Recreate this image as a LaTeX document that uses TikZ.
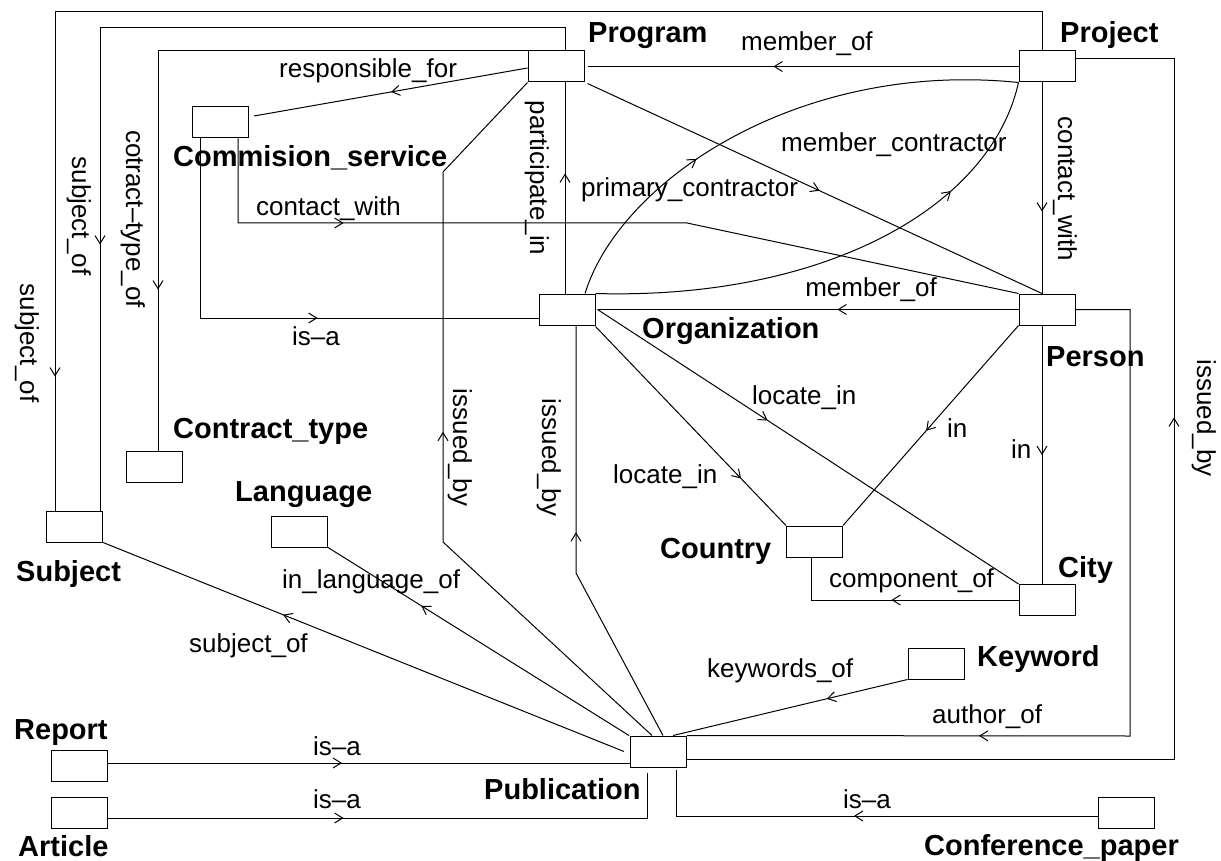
\documentclass[tikz,border=0pt]{standalone}
\usepackage{fontspec}
\setmainfont{Liberation Sans}
\usetikzlibrary{calc,arrows.meta,decorations.markings}
\tikzset{
  box/.style={draw, line width=1pt, minimum width=56pt, minimum height=31pt, inner sep=0pt},
  lbl/.style={font=\fontsize{26}{30}\selectfont, inner sep=0pt},
  ttl/.style={font=\bfseries\fontsize{29}{33}\selectfont, inner sep=0pt, anchor=base west},
  conn/.style={line width=1pt},
  arr/.style={postaction={decorate,decoration={markings,mark=at position #1 with {\arrow{Straight Barb[length=8pt,width=10pt]}}}}},
}
\begin{document}
\begin{tikzpicture}[x=1pt,y=-1pt]
\fill[white] (0,0) rectangle (1221,861);
\useasboundingbox (0,0) rectangle (1221,861);
% boxes
\node[box] (prog) at (556,66.5) {};
\node[box] (proj) at (1047,66.5) {};
\node[box] (comm) at (220.5,122.5) {};
\node[box] (org) at (567,309.5) {};
\node[box] (pers) at (1047,309.5) {};
\node[box] (ctry) at (814.5,541.5) {};
\node[box] (city) at (1047,600) {};
\node[box] (ctype) at (154,466.5) {};
\node[box] (subj) at (74.5,526.5) {};
\node[box] (lang) at (299.5,531.5) {};
\node[box] (kw) at (936,663.5) {};
\node[box] (pub) at (658.5,751.5) {};
\node[box] (rep) at (79,766) {};
\node[box] (art) at (79,812.5) {};
\node[box] (conf) at (1126.5,812.5) {};
% titles
\node[ttl] (tprog) at (588,43) {Program};
\node[ttl] (tproj) at (1060,43) {Project};
\node[ttl] (tcomm) at (173,167) {Commision\_service};
\node[ttl] (torg) at (642,338) {Organization};
\node[ttl] (tpers) at (1046,366) {Person};
\node[ttl] (tctry) at (660,558) {Country};
\node[ttl] (tcity) at (1058,577) {City};
\node[ttl] (tctype) at (173,438) {Contract\_type};
\node[ttl] (tlang) at (235,501) {Language};
\node[ttl] (tsubj) at (16,581) {Subject};
\node[ttl] (tkw) at (977,666) {Keyword};
\node[ttl] (trep) at (14,739) {Report};
\node[ttl] (tart) at (18,856) {Article};
\node[ttl] (tpub) at (484,799) {Publication};
\node[ttl] (tconf) at (924,855) {Conference\_paper};
% connectors
\draw[conn, arr=-134pt] ($(proj.north)+(-5,0)$) -- ++(0,-39) -| ($(subj.north)+(-19.5,0)$);
\draw[conn, arr=-266pt] ($(prog.north)+(9,0)$) -- ++(0,-23) -| ($(subj.north)+(25.5,0)$);
\draw[conn, arr=-161pt] (prog.north west) -| ($(ctype.north)+(4,0)$);
\draw[conn, arr=-139pt] ($(prog.west)+(0,1.5)$) -- ($(comm.east)+(5,-6.5)$);
\draw[conn, arr=395pt] ($(pub.north)+(-6.5,0)$) -- (443,542) -- (443,172) -- (prog.south west);
\draw[conn, arr=225pt] ($(pub.north)+(4.5,0)$) -- (576,573) -- ($(org.south)+(9,0)$);
\draw[conn, arr=-91pt] ($(org.north)+(-2,0)$) -- ($(prog.south)+(9,0)$);
\draw[conn, arr=-186pt] (proj.west) -- ($(prog.east)+(3,0)$);
\draw[conn, arr=297pt] ($(comm.south)+(-20.5,0)$) |- ($(org.west)+(0,8.5)$);
\draw[conn, arr=181pt] (pers.west) -- ($(org.east)+(2,0)$);
\draw[conn, arr=203pt] ($(org.east)+(2,0)$) -- (city.north west);
\draw[conn, arr=-65pt] ($(org.south east)+(0,1)$) -- (ctry.north west);
\draw[conn, arr=-126pt] (pers.south west) -- (ctry.north east);
\draw[conn, arr=-129pt] ($(pers.south)+(-5,0)$) -- ($(city.north)+(-5,0)$);
\draw[conn, arr=127pt] (city.west) -| ($(ctry.south)+(-3.5,0)$);
\draw[conn, arr=-292pt] (pers.east) -| (1130,736) -- (pub.north east);
\draw[conn, arr=-457pt] ($(pub.east)+(0,7.5)$) -| (1174,59) -- ($(proj.east)+(0,-7.5)$);
\draw[conn, arr=-194pt] ($(pub.west)+(-6,0)$) -- (subj.south east);
\draw[conn, arr=-110pt] ($(pub.north west)+(-1,0)$) -- (lang.south east);
\draw[conn, arr=83pt] (kw.south west) -- ($(pub.north)+(14.5,0)$);
\draw[conn, arr=-288pt] ($(rep.east)+(0,-3)$) -- ($(pub.west)+(0,11.5)$);
\draw[conn, arr=236pt] ($(art.east)+(0,5.5)$) -| ($(pub.south)+(-11.5,5)$);
\draw[conn, arr=244pt] ($(conf.west)+(0,3.5)$) -| ($(pub.south)+(17.5,2)$);
\draw[conn, arr=178pt] ($(org.north)+(18,0)$) .. controls (620,180) and (800,60) .. (proj.south west);
\draw[conn, arr=-130pt] (org.north east) .. controls (820,300) and (990,210) .. (proj.south west);
\draw[conn, arr=190pt] ($(comm.south)+(17.5,0)$) |- (687,223) -- (pers.north west);
\draw[conn, arr=-82pt] ($(proj.south)+(-5,0)$) -- ($(pers.north)+(-5,0)$);
\draw[conn, arr=-245pt] ($(prog.south east)+(3,1)$) -- ($(pers.north)+(-5,0)$);
% rotated labels
\node[lbl, rotate=-90, anchor=base] (l1) at (20,343) {subject\_of};
\node[lbl, rotate=-90, anchor=base] (l2) at (72,216) {subject\_of};
\node[lbl, rotate=-90, anchor=base] (l3) at (126,219) {cotract–type\_of};
\node[lbl, rotate=-90, anchor=base] (l4) at (530,178) {participate\_in};
\node[lbl, rotate=-90, anchor=base] (l5) at (453,447.5) {issued\_by};
\node[lbl, rotate=-90, anchor=base] (l6) at (542,457.5) {issued\_by};
\node[lbl, rotate=-90, anchor=base] (l7) at (1058,189) {contact\_with};
\node[lbl, rotate=-90, anchor=base] (l8) at (1197,418) {issued\_by};
% horizontal labels
\node[lbl, anchor=base west] (h1) at (279,78) {responsible\_for};
\node[lbl, anchor=base west] (h2) at (741,51) {member\_of};
\node[lbl, anchor=base west] (h3) at (781,152) {member\_contractor};
\node[lbl, anchor=base west] (h4) at (581,197) {primary\_contractor};
\node[lbl, anchor=base west] (h5) at (256,216) {contact\_with};
\node[lbl, anchor=base east] (h6) at (937,296) {member\_of};
\node[lbl, anchor=base west] (h7) at (292,345) {is–a};
\node[lbl, anchor=base west] (h8) at (752,404) {locate\_in};
\node[lbl, anchor=base west] (h9) at (613,483) {locate\_in};
\node[lbl, anchor=base west] (h10) at (947,437) {in};
\node[lbl, anchor=base west] (h11) at (1011,458) {in};
\node[lbl, anchor=base west] (h12) at (829,587) {component\_of};
\node[lbl, anchor=base west] (h13) at (932,723) {author\_of};
\node[lbl, anchor=base west] (h14) at (707,677) {keywords\_of};
\node[lbl, anchor=base west] (h15) at (282,588) {in\_language\_of};
\node[lbl, anchor=base west] (h16) at (189,652) {subject\_of};
\node[lbl, anchor=base west] (h17) at (313,755) {is–a};
\node[lbl, anchor=base west] (h18) at (313,808) {is–a};
\node[lbl, anchor=base west] (h19) at (843,808) {is–a};
\end{tikzpicture}
\end{document}
